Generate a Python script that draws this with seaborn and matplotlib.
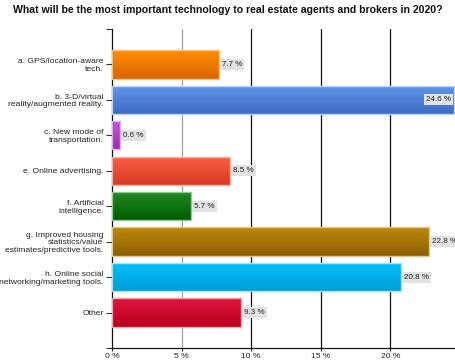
import numpy as np
import pandas as pd
import seaborn as sns
import matplotlib
matplotlib.use('Agg')
from matplotlib import pyplot as plt
from matplotlib.colors import LinearSegmentedColormap

categories = [
    'a. GPS/location-aware\ntech.',
    'b. 3-D/virtual\nreality/augmented reality.',
    'c. New mode of\ntransportation.',
    'e. Online advertising.',
    'f. Artificial\nintelligence.',
    'g. Improved housing\nstatistics/value\nestimates/predictive tools.',
    'h. Online social\nnetworking/marketing tools.',
    'Other',
]
values = [7.7, 24.6, 0.6, 8.5, 5.7, 22.8, 20.8, 9.3]
top_colors = ['#ff8c00', '#6296e6', '#c45ad6', '#fa5f46', '#228b22', '#bb8a0c', '#00c0fa', '#e0163e']
bottom_colors = ['#d96800', '#3d6cc6', '#9a2eb0', '#d83c24', '#005e00', '#8f5e00', '#009ed8', '#b8001e']
edge_colors = ['#ffc080', '#c0d4f4', '#e0a8ea', '#ffb0a0', '#90c890', '#e0c890', '#a0e4ff', '#f4a0b0']
xticks = [0, 5, 10, 15, 20]
xtick_labels = ['0 %', '5 %', '10 %', '15 %', '20 %']

if __name__ == '__main__':
    sns.set_style('white')
    plt.rcParams['font.family'] = ['Liberation Sans', 'DejaVu Sans']

    data = pd.DataFrame({'category': categories, 'value': values})

    fig = plt.figure(figsize=(4.56, 3.63), dpi=100)
    ax = fig.add_axes([0.2456, 0.0413, 0.752, 0.879])

    sns.barplot(data=data, x='value', y='category', hue='category',
                palette=top_colors, orient='h', width=0.8, legend=False, ax=ax)

    ax.set_xlim(0, 24.65)
    ax.set_ylim(len(categories), -1)

    # vertical gradient on every bar, clipped to the bar patch
    for patch, c_top, c_bot, c_edge in zip(ax.patches, top_colors, bottom_colors, edge_colors):
        x0, y0 = patch.get_x(), patch.get_y()
        w, h = patch.get_width(), patch.get_height()
        cmap = LinearSegmentedColormap.from_list('g', [c_top, c_bot])
        grad = np.linspace(0, 1, 64).reshape(-1, 1)
        im = ax.imshow(grad, cmap=cmap, aspect='auto', extent=(x0, x0 + w, y0 + h, y0),
                       origin='upper', zorder=2)
        im.set_clip_path(patch)
        patch.set_edgecolor(c_edge)
        patch.set_linewidth(1.0)
        patch.set_zorder(3)
        patch.set_facecolor('none')

    ax.set_xlim(0, 24.65)
    ax.set_ylim(len(categories), -1)

    # value labels
    for i, v in enumerate(values):
        txt = f'{v} %'
        if v > 24:
            ax.text(v - 0.2, i, txt, ha='right', va='center', fontsize=5.8, color='#222222',
                    bbox=dict(facecolor='#e2e2e2', edgecolor='none', pad=1.4), zorder=5)
        else:
            ax.text(v + 0.2, i, txt, ha='left', va='center', fontsize=5.8, color='#222222',
                    bbox=dict(facecolor='#e2e2e2', edgecolor='none', pad=1.4), zorder=5)

    # grid lines
    for xt in xticks[1:]:
        ax.axvline(xt, color='#a0a0a0' if xt == 5 else '#111111', lw=0.9, zorder=1)

    ax.set_xticks(xticks)
    ax.set_xticklabels(xtick_labels)
    ax.set_xlabel('')
    ax.set_ylabel('')
    ax.set_yticks(range(len(categories)))
    ax.set_yticklabels(categories, ha='right', ma='right', linespacing=1.1)
    ax.set_yticks([-1, len(categories)], minor=True)
    ax.tick_params(axis='y', which='both', length=4, width=0.8, color='#333333',
                   labelsize=6.1, labelcolor='#222222', pad=2, left=True)
    ax.tick_params(axis='x', length=2.5, width=0.8, color='#333333',
                   labelsize=6.1, labelcolor='#222222', pad=1, bottom=True)

    sns.despine(ax=ax, top=True, right=True)
    ax.spines['left'].set_color('#111111')
    ax.spines['bottom'].set_color('#111111')
    ax.spines['left'].set_linewidth(0.9)
    ax.spines['bottom'].set_linewidth(0.9)

    fig.text(0.5, 0.985, 'What will be the most important technology to real estate agents and brokers in 2020?',
             ha='center', va='top', fontsize=7.6, fontweight='bold', color='#111111')

    fig.savefig('out.png', dpi=100)
